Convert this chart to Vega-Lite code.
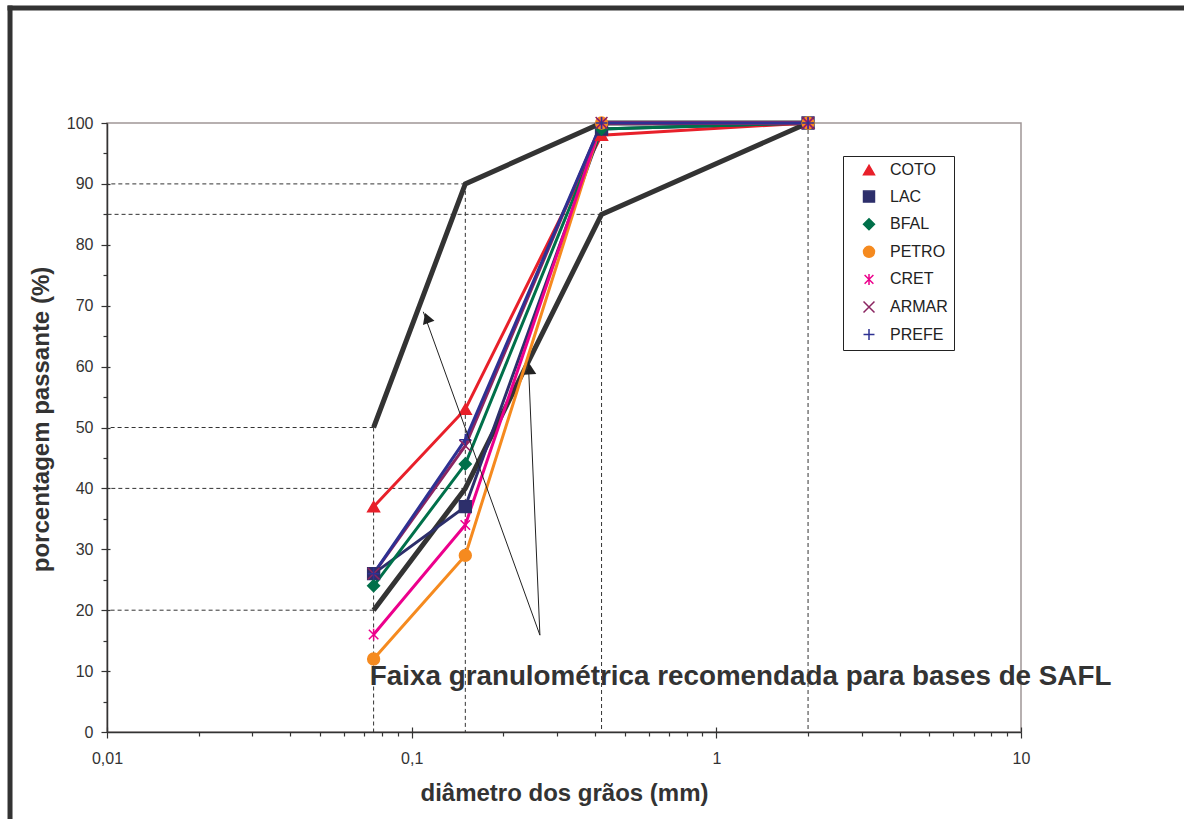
{
  "$schema": "https://vega.github.io/schema/vega-lite/v6.json",
  "width": 914,
  "height": 609,
  "autosize": "none",
  "padding": {"left": 107, "top": 123, "right": 163, "bottom": 87},
  "background": "white",
  "config": {
    "view": {"stroke": "#a09696", "strokeWidth": 1.5},
    "font": "Liberation Sans",
    "axis": {
      "labelFont": "Liberation Sans",
      "titleFont": "Liberation Sans",
      "labelColor": "#333333",
      "titleColor": "#333333",
      "domainColor": "#333333",
      "tickColor": "#333333",
      "grid": false,
      "domainWidth": 1.5,
      "tickWidth": 1.2,
      "labelFontSize": 16,
      "titleFontSize": 24,
      "titleFontWeight": "bold"
    },
    "legend": {
      "orient": "none",
      "legendX": 736,
      "legendY": 33,
      "strokeColor": "#222222",
      "padding": 6,
      "labelFont": "Liberation Sans",
      "labelFontSize": 16,
      "labelColor": "#222222",
      "rowPadding": 9.6,
      "symbolSize": 120,
      "symbolOffset": 12,
      "labelOffset": 13,
      "symbolStrokeWidth": 1.5
    }
  },
  "datasets": {
    "series": [
      {"s": "COTO", "d": 0.075, "p": 37}, {"s": "COTO", "d": 0.15, "p": 53}, {"s": "COTO", "d": 0.42, "p": 98}, {"s": "COTO", "d": 2, "p": 100},
      {"s": "LAC", "d": 0.075, "p": 26}, {"s": "LAC", "d": 0.15, "p": 37}, {"s": "LAC", "d": 0.42, "p": 99}, {"s": "LAC", "d": 2, "p": 100},
      {"s": "BFAL", "d": 0.075, "p": 24}, {"s": "BFAL", "d": 0.15, "p": 44}, {"s": "BFAL", "d": 0.42, "p": 99}, {"s": "BFAL", "d": 2, "p": 100},
      {"s": "PETRO", "d": 0.075, "p": 12}, {"s": "PETRO", "d": 0.15, "p": 29}, {"s": "PETRO", "d": 0.42, "p": 100}, {"s": "PETRO", "d": 2, "p": 100},
      {"s": "CRET", "d": 0.075, "p": 16}, {"s": "CRET", "d": 0.15, "p": 34}, {"s": "CRET", "d": 0.42, "p": 100}, {"s": "CRET", "d": 2, "p": 100},
      {"s": "ARMAR", "d": 0.075, "p": 26}, {"s": "ARMAR", "d": 0.15, "p": 47}, {"s": "ARMAR", "d": 0.42, "p": 100}, {"s": "ARMAR", "d": 2, "p": 100},
      {"s": "PREFE", "d": 0.075, "p": 26}, {"s": "PREFE", "d": 0.15, "p": 48}, {"s": "PREFE", "d": 0.42, "p": 100}, {"s": "PREFE", "d": 2, "p": 100}
    ],
    "band": [
      {"band": "upper", "d": 0.075, "v": 50}, {"band": "upper", "d": 0.15, "v": 90}, {"band": "upper", "d": 0.42, "v": 100}, {"band": "upper", "d": 2, "v": 100},
      {"band": "lower", "d": 0.075, "v": 20}, {"band": "lower", "d": 0.15, "v": 40}, {"band": "lower", "d": 0.42, "v": 85}, {"band": "lower", "d": 2, "v": 100}
    ]
  },
  "resolve": {"axis": {"x": "independent", "y": "independent"}},
  "layer": [
    {
      "data": {"name": "band"},
      "transform": [{"filter": "datum.v < 100"}],
      "mark": {"type": "rule", "color": "#333333", "strokeWidth": 1, "strokeDash": [4, 3]},
      "encoding": {
        "x": {"field": "d", "type": "quantitative",
              "scale": {"type": "log", "domain": [0.01, 10]},
              "axis": {"orient": "bottom", "values": [0.01, 0.1, 1, 10], "format": "~g",
                       "labelExpr": "replace(datum.label, '.', ',')", "labelFlush": false,
                       "tickSize": 6, "labelPadding": 12,
                       "title": "diâmetro dos grãos (mm)", "titleY": 61, "titleBaseline": "middle"}},
        "x2": {"datum": 0.01},
        "y": {"field": "v", "type": "quantitative",
              "scale": {"domain": [0, 100]},
              "axis": {"orient": "left", "values": [0, 10, 20, 30, 40, 50, 60, 70, 80, 90, 100],
                       "tickSize": 6, "labelPadding": 8,
                       "title": "porcentagem passante (%)", "titleX": -66, "titleY": 296,
                       "titleAngle": -90, "titleAlign": "center", "titleBaseline": "middle"}}
      }
    },
    {
      "data": {"name": "band"},
      "transform": [{"filter": "datum.band == 'upper'"}],
      "mark": {"type": "rule", "color": "#333333", "strokeWidth": 1, "strokeDash": [4, 3]},
      "encoding": {
        "x": {"field": "d", "type": "quantitative",
              "axis": {"orient": "bottom", "values": [0.02, 0.03, 0.04, 0.05, 0.06, 0.07, 0.08, 0.09, 0.2, 0.3, 0.4, 0.5, 0.6, 0.7, 0.8, 0.9, 2, 3, 4, 5, 6, 7, 8, 9],
                       "labels": false, "domain": false, "tickSize": 4, "title": null}},
        "y": {"field": "v", "type": "quantitative",
              "axis": {"orient": "left", "values": [5, 15, 25, 35, 45, 55, 65, 75, 85, 95],
                       "labels": false, "domain": false, "tickSize": 4, "title": null}},
        "y2": {"datum": 0}
      }
    },
    {
      "data": {"name": "band"},
      "mark": {"type": "line", "color": "#333333", "strokeWidth": 5},
      "encoding": {
        "x": {"field": "d", "type": "quantitative",
              "axis": {"orient": "bottom", "values": [0.01, 0.1, 1, 10],
                       "labels": false, "domain": false, "tickSize": -5, "title": null}},
        "y": {"field": "v", "type": "quantitative",
              "axis": {"orient": "left", "values": [10, 20, 30, 40, 50, 60, 70, 80, 90],
                       "labels": false, "domain": false, "tickSize": -3, "title": null}},
        "detail": {"field": "band"}
      }
    },
    {
      "data": {"name": "series"},
      "mark": {"type": "line", "strokeWidth": 3},
      "encoding": {
        "x": {"field": "d", "type": "quantitative", "axis": null},
        "y": {"field": "p", "type": "quantitative", "axis": null},
        "stroke": {"field": "s", "type": "nominal",
                   "scale": {"domain": ["COTO", "LAC", "BFAL", "PETRO", "CRET", "ARMAR", "PREFE"],
                             "range": ["#e8202a", "#2d2f6b", "#00704a", "#f58a1f", "#ec008c", "#8b2561", "#2e3192"]},
                   "legend": {"title": null}}
      }
    },
    {
      "data": {"name": "series"},
      "mark": {"type": "point", "filled": true, "size": 140, "strokeWidth": 1.5, "opacity": 1},
      "encoding": {
        "x": {"field": "d", "type": "quantitative", "axis": null},
        "y": {"field": "p", "type": "quantitative", "axis": null},
        "fill": {"field": "s", "type": "nominal",
                 "scale": {"domain": ["COTO", "LAC", "BFAL", "PETRO", "CRET", "ARMAR", "PREFE"],
                           "range": ["#e8202a", "#2d2f6b", "#00704a", "#f58a1f", "#ec008c", "#8b2561", "#2e3192"]},
                 "legend": {"title": null}},
        "stroke": {"field": "s", "type": "nominal", "legend": {"title": null}},
        "shape": {"field": "s", "type": "nominal",
                  "scale": {"domain": ["COTO", "LAC", "BFAL", "PETRO", "CRET", "ARMAR", "PREFE"],
                            "range": ["triangle-up", "square", "diamond", "circle",
                                      "M-0.8,-0.8L0.8,0.8M-0.8,0.8L0.8,-0.8M0,-1L0,1",
                                      "M-1,-1L1,1M-1,1L1,-1",
                                      "M-1,0L1,0M0,-1L0,1"]},
                  "legend": {"title": null}}
      }
    },
    {
      "data": {"values": [{}]},
      "mark": {"type": "rule", "color": "#222222", "strokeWidth": 1},
      "encoding": {
        "x": {"datum": 0.2636, "type": "quantitative", "axis": null},
        "y": {"datum": 15.9, "type": "quantitative", "axis": null},
        "x2": {"datum": 0.1092},
        "y2": {"datum": 69.0}
      }
    },
    {
      "data": {"values": [{}]},
      "mark": {"type": "rule", "color": "#222222", "strokeWidth": 1},
      "encoding": {
        "x": {"datum": 0.2636, "type": "quantitative", "axis": null},
        "y": {"datum": 15.9, "type": "quantitative", "axis": null},
        "x2": {"datum": 0.2415},
        "y2": {"datum": 60.8}
      }
    },
    {
      "data": {"values": [{}]},
      "mark": {"type": "point", "shape": "triangle-up", "filled": true, "color": "#222222", "size": 150, "opacity": 1, "angle": -20},
      "encoding": {
        "x": {"datum": 0.1122, "type": "quantitative", "axis": null},
        "y": {"datum": 68.0, "type": "quantitative", "axis": null}
      }
    },
    {
      "data": {"values": [{}]},
      "mark": {"type": "point", "shape": "triangle-up", "filled": true, "color": "#222222", "size": 150, "opacity": 1, "angle": -3},
      "encoding": {
        "x": {"datum": 0.2443, "type": "quantitative", "axis": null},
        "y": {"datum": 59.6, "type": "quantitative", "axis": null}
      }
    },
    {
      "data": {"values": [{}]},
      "mark": {"type": "text", "text": "Faixa granulométrica recomendada para bases de SAFL",
               "align": "left", "baseline": "alphabetic", "font": "Liberation Sans",
               "fontSize": 27.8, "fontWeight": "bold", "color": "#333333"},
      "encoding": {
        "x": {"datum": 0.0729, "type": "quantitative", "axis": null},
        "y": {"datum": 7.72, "type": "quantitative", "axis": null}
      }
    },
    {
      "data": {"values": [{}]},
      "mark": {"type": "rule", "color": "#333333", "strokeWidth": 5},
      "encoding": {
        "x": {"datum": 0.004714, "type": "quantitative", "axis": null},
        "x2": {"datum": 34.3},
        "y": {"datum": 118.88, "type": "quantitative", "axis": null}
      }
    },
    {
      "data": {"values": [{}]},
      "mark": {"type": "rule", "color": "#333333", "strokeWidth": 5},
      "encoding": {
        "x": {"datum": 0.004805, "type": "quantitative", "axis": null},
        "y": {"datum": 119.3, "type": "quantitative", "axis": null},
        "y2": {"datum": -14.3}
      }
    }
  ]
}
